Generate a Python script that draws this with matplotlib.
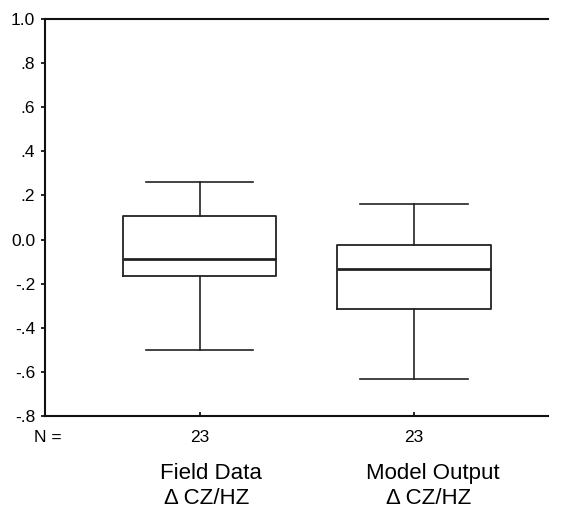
import matplotlib.pyplot as plt
import matplotlib.transforms as mtransforms

plt.rcParams['font.family'] = ['Liberation Sans', 'DejaVu Sans']

# box statistics
group_names = ["Field Data", "Model Output"]
group_sub = ["\u0394 CZ/HZ", "\u0394 CZ/HZ"]
counts = [23, 23]
whislo = [-0.50, -0.63]
q1 = [-0.165, -0.315]
med = [-0.09, -0.135]
q3 = [0.105, -0.025]
whishi = [0.26, 0.16]

yticks = [-0.8, -0.6, -0.4, -0.2, 0.0, 0.2, 0.4, 0.6, 0.8, 1.0]
ytick_labels = ["-.8", "-.6", "-.4", "-.2", "0.0", ".2", ".4", ".6", ".8", "1.0"]

stats = []
for i in range(len(group_names)):
    stats.append({"whislo": whislo[i], "q1": q1[i], "med": med[i],
                  "q3": q3[i], "whishi": whishi[i], "fliers": []})

fig = plt.figure(figsize=(5.64, 5.11), dpi=100)
ax = fig.add_axes([0.0798, 0.1859, 0.8918, 0.7769])

positions = [1, 2]
ax.bxp(stats, positions=positions, widths=0.715, capwidths=0.5,
       showfliers=False, patch_artist=False,
       boxprops=dict(color="#222222", linewidth=1.3),
       whiskerprops=dict(color="#222222", linewidth=1.2),
       capprops=dict(color="#222222", linewidth=1.2),
       medianprops=dict(color="#222222", linewidth=2.0))

ax.set_xlim(0.276, 2.626)
ax.set_ylim(-0.8, 1.0)
ax.set_yticks(yticks)
ax.set_yticklabels(ytick_labels)
ax.set_xticks(positions)
ax.set_xticklabels([str(c) for c in counts])
ax.tick_params(axis="y", length=3, width=1.2, pad=4, labelsize=12.5)
ax.tick_params(axis="x", length=3, width=1.2, pad=10, direction="in",
               labelsize=12.5)

ax.spines["right"].set_visible(False)
for s in ["left", "bottom", "top"]:
    ax.spines[s].set_linewidth(1.5)
    ax.spines[s].set_color("#111111")

trans = mtransforms.blended_transform_factory(ax.transData, ax.transAxes)
ax.text(-0.021, -0.0655, "N =", transform=ax.transAxes, fontsize=12.5,
        ha="left", va="baseline")
name_shift = [0.05, 0.09]
sub_shift = [0.03, 0.07]
for i, p in enumerate(positions):
    ax.text(p + name_shift[i], -0.159, group_names[i], transform=trans,
            fontsize=16, ha="center", va="baseline")
    ax.text(p + sub_shift[i], -0.222, group_sub[i], transform=trans,
            fontsize=16, ha="center", va="baseline")

fig.savefig("out.png", dpi=100)
